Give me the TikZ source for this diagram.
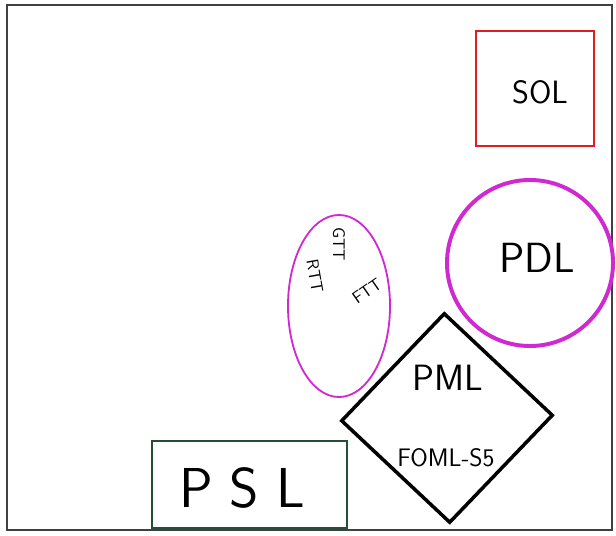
\documentclass[tikz,border=0pt]{standalone}
\usepackage{tikz}
\usetikzlibrary{shapes.geometric}

\definecolor{solred}{RGB}{222,28,34}
\definecolor{logicmagenta}{RGB}{208,40,210}
\definecolor{pslgreen}{RGB}{36,78,58}

\begin{document}
\begin{tikzpicture}[x=0.025cm, y=-0.025cm,
		lbl/.style={font=\sffamily\fontsize{#1}{#1}\selectfont, inner sep=0pt}]
			\useasboundingbox (0,0) rectangle (616,536);
			\draw[black!75, line width=0.8pt] (7,5) rectangle (612,530);

			% logics
			\node[draw=solred, line width=1.4pt, minimum width=2.95cm, minimum height=2.875cm] (sol) at (535,88.5) {};
			\node[draw=logicmagenta, line width=2.8pt, circle, minimum size=4.15cm] (pdl) at (530,263) {};
			\node[draw=logicmagenta, line width=1.3pt, ellipse, minimum width=2.55cm, minimum height=4.55cm] (types) at (339,306) {};
			\node[draw, line width=2.5pt, diamond, rotate=1.5, minimum width=5.3cm, minimum height=5.25cm, inner sep=0pt] (pml) at (447,418) {};
			\node[draw=pslgreen, line width=1.4pt, minimum width=4.875cm, minimum height=2.175cm] (psl) at (249.5,484.5) {};

			% labels
			\node[lbl=23] (soltext) at (540,92) {SOL};
			\node[lbl=30] (pdltext) at (537,258) {PDL};
			\node[lbl=26] (pmltext) at (448,378) {PML};
			\node[lbl=18] (fomltext) at (446,458) {FOML-S5};
			\node[lbl=40] (psltext) at (242,488) {P\hspace{0.3em}S\hspace{0.3em}L};
			\node[lbl=12, rotate=-80] (rtt) at (315,276) {RTT};
			\node[lbl=12, rotate=-90] (gtt) at (339,244) {GTT};
			\node[lbl=12, rotate=35] (ftt) at (367,291) {FTT};
		\end{tikzpicture}
\end{document}
